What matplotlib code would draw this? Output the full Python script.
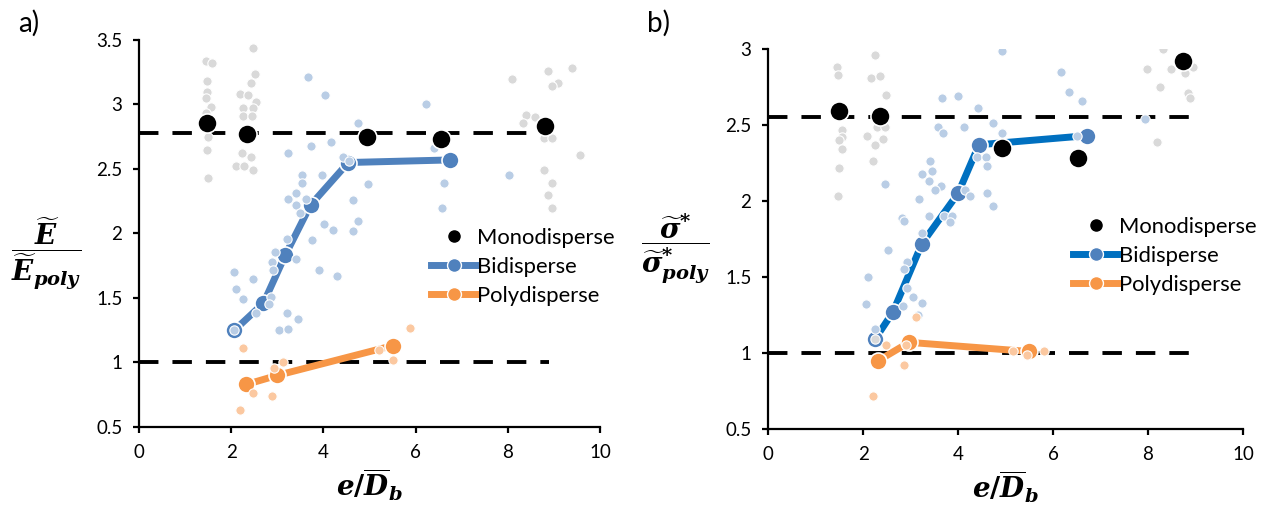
import numpy as np
import matplotlib
matplotlib.use('Agg')
import matplotlib.pyplot as plt
from matplotlib.lines import Line2D

plt.rcParams.update({
    'font.family': ['Lato', 'DejaVu Sans'],
    'mathtext.fontset': 'custom',
    'mathtext.it': 'DejaVu Serif:italic:bold',
    'mathtext.rm': 'DejaVu Serif:bold',
    'mathtext.bf': 'DejaVu Serif:italic:bold',
})

# ---------------- panel a) : modulus ----------------
a_mono_x = [1.48, 2.35, 4.95, 6.55, 8.80]
a_mono_y = [2.86, 2.77, 2.75, 2.73, 2.83]
a_bi_x = [2.07, 2.70, 3.17, 3.72, 4.54, 6.75]
a_bi_y = [1.25, 1.46, 1.83, 2.22, 2.55, 2.57]
a_poly_x = [2.33, 3.00, 5.50]
a_poly_y = [0.83, 0.90, 1.13]
a_ref = [2.78, 1.0]

a_grey_x = [1.46, 1.59, 1.48, 1.48, 1.46, 1.56, 1.46, 1.50, 1.48, 1.50,
            2.48, 2.52, 2.42, 2.20, 2.37, 2.54, 2.26, 2.48, 2.26, 2.45,
            2.24, 2.44, 2.11, 2.28, 2.48,
            8.09, 8.87, 9.39, 9.09, 8.96, 8.39, 8.59, 8.33, 8.78, 8.96,
            9.57, 8.78, 8.96, 8.87, 8.96, 4.90, 6.45]
a_grey_y = [3.34, 3.32, 3.18, 3.10, 3.05, 2.98, 2.93, 2.75, 2.65, 2.43,
            3.44, 3.24, 3.17, 3.08, 3.07, 3.02, 2.97, 2.97, 2.91, 2.91,
            2.62, 2.59, 2.52, 2.52, 2.49,
            3.20, 3.26, 3.28, 3.17, 3.14, 2.92, 2.90, 2.86, 2.74, 2.74,
            2.61, 2.49, 2.39, 2.30, 2.20, 2.78, 2.70]
a_lb_x = [3.67, 4.04, 4.76, 6.22, 3.24, 3.72, 4.17, 6.39, 4.43, 4.55,
          3.54, 3.98, 3.54, 4.96, 6.61, 8.02, 3.41, 3.24, 3.62, 4.65,
          6.57, 4.76, 3.41, 3.50, 4.02, 4.20, 4.65, 3.76, 3.20, 2.96,
          3.41, 2.89, 2.91, 3.91, 4.30, 2.07, 2.48, 2.11, 2.26, 2.87,
          2.83, 2.54, 3.20, 3.45, 3.04, 3.24, 2.07]
a_lb_y = [3.21, 3.07, 2.86, 3.00, 2.62, 2.68, 2.71, 2.66, 2.59, 2.56,
          2.45, 2.45, 2.39, 2.38, 2.39, 2.45, 2.31, 2.27, 2.27, 2.26,
          2.20, 2.10, 2.22, 2.16, 2.07, 2.03, 2.02, 1.95, 1.96, 1.86,
          1.80, 1.78, 1.72, 1.72, 1.67, 1.70, 1.65, 1.57, 1.49, 1.51,
          1.45, 1.38, 1.38, 1.34, 1.25, 1.26, 1.25]
a_lo_x = [2.26, 3.13, 2.93, 2.48, 2.89, 2.20, 5.20, 5.50, 5.87]
a_lo_y = [1.11, 1.00, 0.96, 0.76, 0.74, 0.63, 1.10, 1.02, 1.27]

# ---------------- panel b) : strength ----------------
b_mono_x = [1.49, 2.36, 4.93, 6.53, 8.73]
b_mono_y = [2.59, 2.56, 2.35, 2.28, 2.92]
b_bi_x = [2.25, 2.63, 3.24, 4.00, 4.44, 6.72]
b_bi_y = [1.09, 1.27, 1.72, 2.05, 2.37, 2.43]
b_poly_x = [2.32, 2.97, 5.49]
b_poly_y = [0.95, 1.07, 1.01]
b_ref = [2.55, 1.0]

b_grey_x = [1.45, 1.47, 2.25, 2.17, 2.36, 2.48, 1.56, 1.56, 1.50, 1.56,
            1.50, 1.47, 2.30, 2.46, 2.08, 2.41, 2.25, 2.20,
            8.32, 7.98, 8.48, 8.95, 8.78, 8.25, 8.84, 8.88, 8.19, 2.25]
b_grey_y = [2.88, 2.83, 2.96, 2.81, 2.82, 2.70, 2.47, 2.42, 2.40, 2.34,
            2.22, 2.03, 2.49, 2.49, 2.43, 2.41, 2.37, 2.26,
            3.00, 2.87, 2.87, 2.88, 2.84, 2.75, 2.71, 2.68, 2.39, 1.09]
b_lb_x = [4.93, 6.17, 6.34, 6.61, 3.66, 4.00, 4.42, 4.74, 4.93, 4.13,
          3.58, 3.68, 7.94, 6.50, 4.40, 4.58, 4.60, 3.41, 3.46, 3.24,
          3.38, 3.64, 3.52, 2.46, 4.61, 4.15, 4.26, 3.18, 4.74, 2.82,
          2.86, 3.39, 3.70, 3.87, 3.82, 3.24, 2.53, 2.93, 2.86, 2.93,
          2.10, 3.05, 3.24, 2.06, 2.85, 3.16, 2.25]
b_lb_y = [2.99, 2.85, 2.72, 2.66, 2.68, 2.69, 2.61, 2.51, 2.45, 2.49,
          2.49, 2.45, 2.54, 2.43, 2.29, 2.29, 2.23, 2.26, 2.20, 2.18,
          2.13, 2.10, 2.07, 2.11, 2.05, 2.07, 2.03, 2.01, 1.97, 1.89,
          1.87, 1.90, 1.90, 1.90, 1.86, 1.79, 1.68, 1.60, 1.55, 1.43,
          1.50, 1.37, 1.33, 1.32, 1.31, 1.25, 1.16]
b_lo_x = [3.12, 2.48, 2.86, 2.21, 5.16, 5.45, 5.81, 2.90]
b_lo_y = [1.24, 1.05, 0.92, 0.72, 1.01, 0.99, 1.01, 1.05]

GREY = '#D9D9D9'
LBLUE = '#B9CDE5'
LORANGE = '#FBC8A0'
BLUE = '#4F81BD'
ORANGE = '#F79646'

fig = plt.figure(figsize=(12.67, 5.19), dpi=100)
axA = fig.add_axes([0.1097, 0.1773, 0.3639, 0.7457])
axB = fig.add_axes([0.6062, 0.1734, 0.3749, 0.7322])


def draw_panel(ax, mono_x, mono_y, bi_x, bi_y, poly_x, poly_y, ref,
               grey_x, grey_y, lb_x, lb_y, lo_x, lo_y, bi_line):
    for r in ref:
        ax.plot([0, 8.9], [r, r], color='black', lw=2.8, ls=(0, (5, 3.6)), zorder=1)
    ax.plot(bi_x, bi_y, color=bi_line, lw=5, zorder=2)
    ax.plot(poly_x, poly_y, color=ORANGE, lw=5, zorder=2)
    ax.scatter(bi_x, bi_y, s=150, color=BLUE, edgecolor='white', lw=1.2, zorder=3)
    ax.scatter(poly_x, poly_y, s=150, color=ORANGE, edgecolor='white', lw=1.2, zorder=3)
    ax.scatter(grey_x, grey_y, s=45, color=GREY, edgecolor='white', lw=0.8, zorder=4)
    ax.scatter(lb_x, lb_y, s=45, color=LBLUE, edgecolor='white', lw=0.8, zorder=4)
    ax.scatter(lo_x, lo_y, s=45, color=LORANGE, edgecolor='white', lw=0.8, zorder=4)
    ax.scatter(mono_x, mono_y, s=190, color='black', edgecolor='white', lw=1.2, zorder=5)

    ax.set_xlim(0, 10)
    ax.set_xticks([0, 2, 4, 6, 8, 10])
    for s in ['top', 'right']:
        ax.spines[s].set_visible(False)
    for s in ['left', 'bottom']:
        ax.spines[s].set_linewidth(1.6)
    ax.tick_params(direction='out', length=4, width=1.6, labelsize=13.5, pad=8)
    ax.set_xlabel(r'$e/\overline{D}_b$', fontsize=20, labelpad=4)

    handles = [
        Line2D([], [], ls='none', marker='o', color='black', ms=8),
        Line2D([], [], color=bi_line, lw=5, marker='o', ms=10, mfc=BLUE, mec='white'),
        Line2D([], [], color=ORANGE, lw=5, marker='o', ms=10, mfc=ORANGE, mec='white'),
    ]
    return handles


labels = ['Monodisperse', 'Bidisperse', 'Polydisperse']

hA = draw_panel(axA, a_mono_x, a_mono_y, a_bi_x, a_bi_y, a_poly_x, a_poly_y, a_ref,
                a_grey_x, a_grey_y, a_lb_x, a_lb_y, a_lo_x, a_lo_y, BLUE)
axA.set_ylim(0.5, 3.5)
axA.set_yticks([0.5, 1, 1.5, 2, 2.5, 3, 3.5])
axA.set_yticklabels(['0.5', '1', '1.5', '2', '2.5', '3', '3.5'])
axA.legend(hA, labels, frameon=False,
           fontsize=15.8, handlelength=2.1, handletextpad=0.0, labelspacing=0.4,
           loc='upper left', bbox_to_anchor=(0.59, 0.565))

hB = draw_panel(axB, b_mono_x, b_mono_y, b_bi_x, b_bi_y, b_poly_x, b_poly_y, b_ref,
                b_grey_x, b_grey_y, b_lb_x, b_lb_y, b_lo_x, b_lo_y, '#0070C0')
axB.set_ylim(0.5, 3)
axB.set_yticks([0.5, 1, 1.5, 2, 2.5, 3])
axB.set_yticklabels(['0.5', '1', '1.5', '2', '2.5', '3'])
axB.legend(hB, labels, frameon=False,
           fontsize=15.8, handlelength=2.1, handletextpad=0.0, labelspacing=0.4,
           loc='upper left', bbox_to_anchor=(0.6, 0.61))

fig.text(46 / 1267, 1 - 253 / 519, r'$\dfrac{\widetilde{E}}{\widetilde{E}_{poly}}$',
         fontsize=20, ha='center', va='center')
fig.text(676 / 1267, 1 - 249 / 519, r'$\dfrac{\widetilde{\sigma}^{*}}{\widetilde{\sigma}^{*}_{poly}}$',
         fontsize=20, ha='center', va='center')

fig.text(0.014, 0.955, 'a)', fontsize=20, ha='left', va='center')
fig.text(0.511, 0.955, 'b)', fontsize=20, ha='left', va='center')

fig.savefig('out.png', dpi=100)
